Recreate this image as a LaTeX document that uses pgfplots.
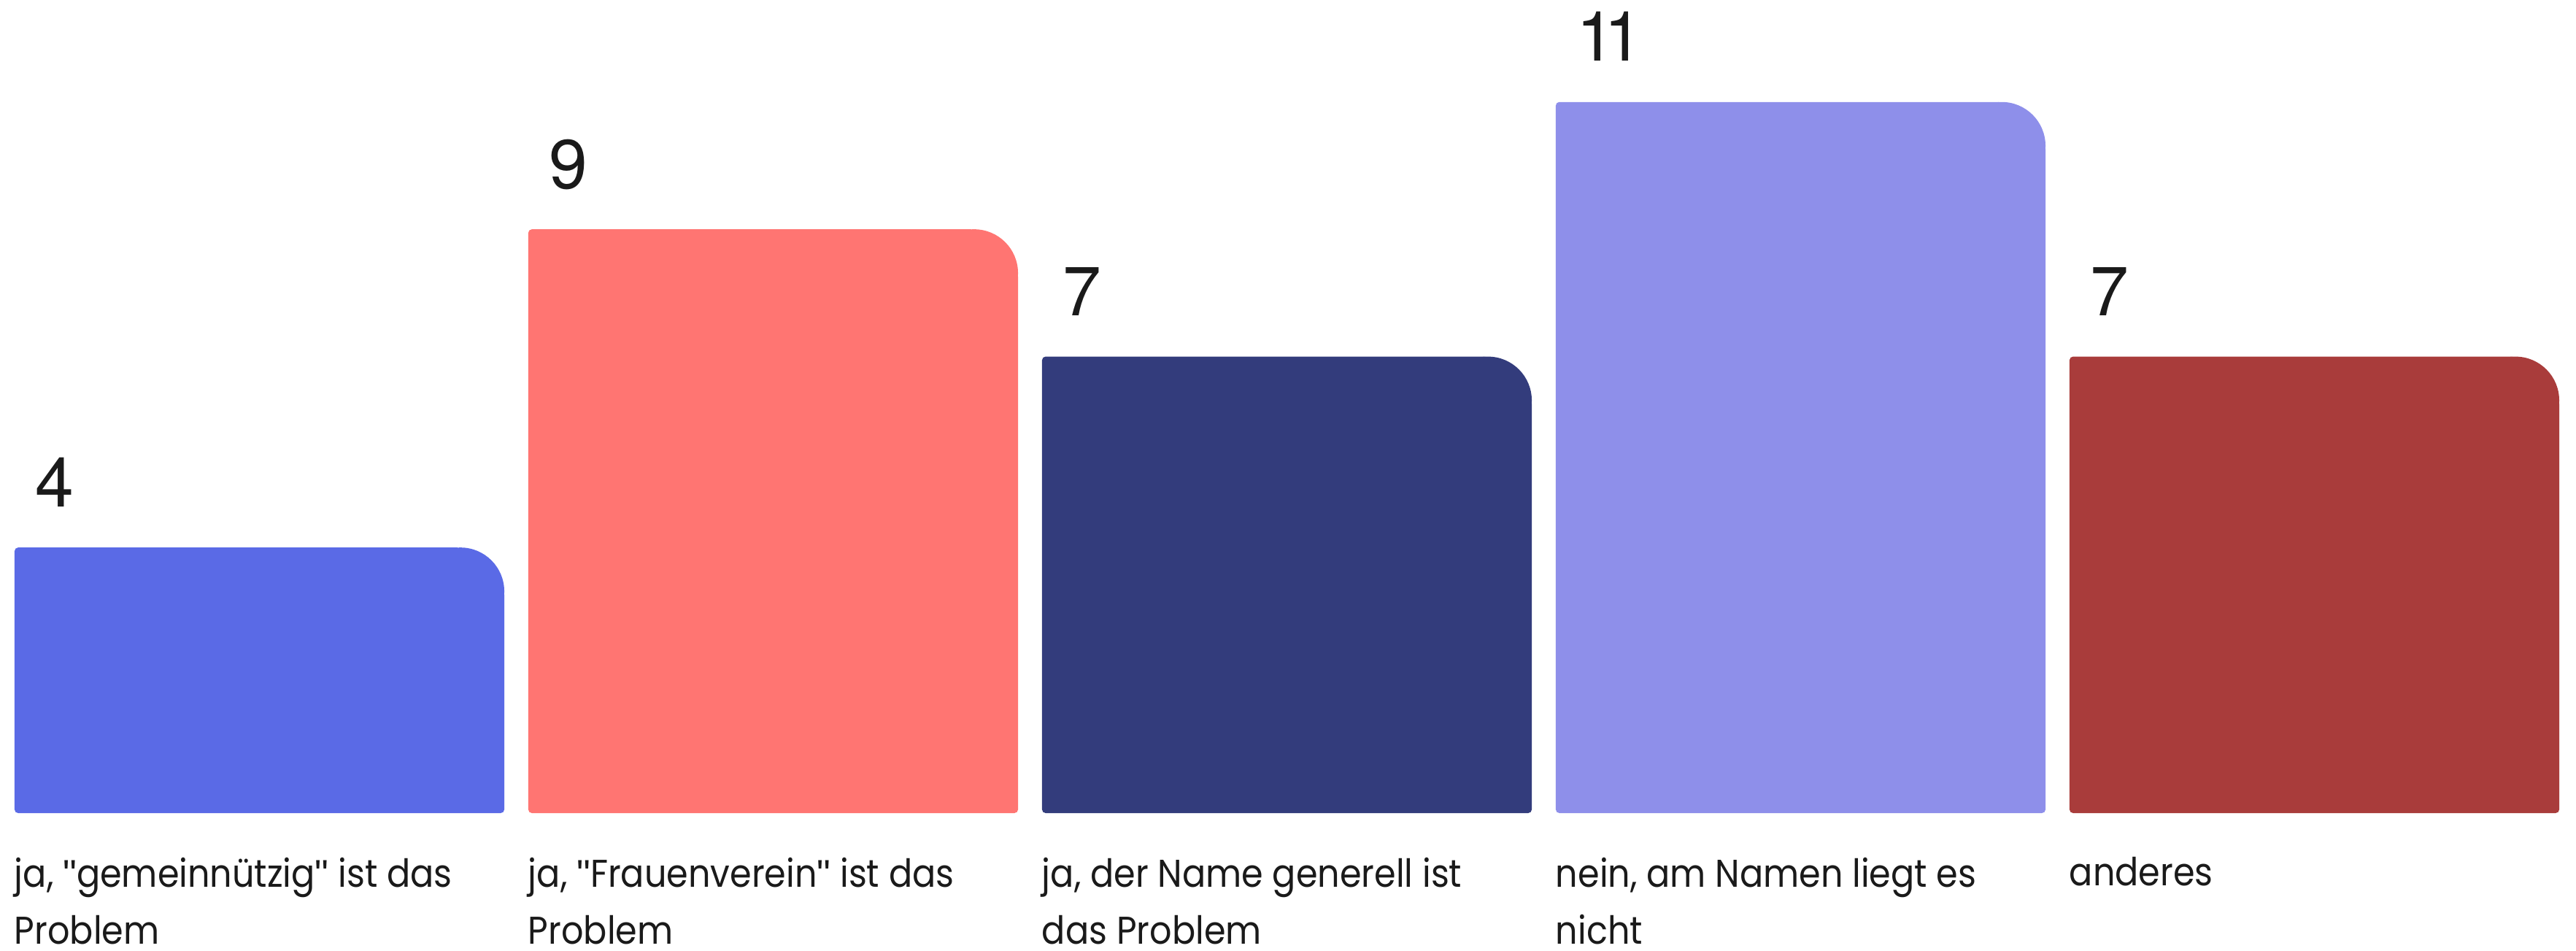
\documentclass[border=0pt]{standalone}
\usepackage{pgfplots}
\pgfplotsset{compat=1.18}
\usepackage{fontspec}
\setmainfont[FakeStretch=0.9]{Poppins}
\newfontfamily\numfont{TeX Gyre Heros}
\newfontfamily\qfont{Liberation Sans}
\definecolor{cA}{HTML}{5A6AE6}
\definecolor{cB}{HTML}{FF7572}
\definecolor{cC}{HTML}{333C7C}
\definecolor{cD}{HTML}{8E8FEA}
\definecolor{cE}{HTML}{A93C3B}
\definecolor{txt}{HTML}{1A1A1A}
\newcommand{\q}{{\qfont"}}
\tikzset{
  cat/.style={inner sep=0pt, outer sep=0pt, text=txt, anchor=base west, align=left, font=\fontsize{13.25}{19.5}\selectfont},
  num/.style={inner sep=0pt, outer sep=0pt, text=txt, anchor=base west, xshift=7.25pt, yshift=14pt, font=\numfont\fontsize{23.75}{28}\selectfont},
}
\begin{document}
\begin{tikzpicture}
\begin{axis}[
  width=882.5pt, height=325.75pt, scale only axis,
  xmin=-0.505, xmax=4.5093, ymin=-2.339, ymax=12.603,
  axis lines=none, ticks=none, clip=false,
]
\path (rel axis cs:0,0) rectangle (rel axis cs:1,1);
% bar 1: value 4
\addplot[draw=none, fill=cA, rounded corners=1.2pt] coordinates {(0,-0.172) (0.4766,-0.172) (0.4766,3.312) (0.3914,3.312) (0.3914,4) (-0.4766,4) (-0.4766,-0.172)} -- cycle;
\addplot[draw=none, fill=cA, rounded corners=15pt] coordinates {(0.3914,2.624) (0.4766,2.624) (0.4766,4) (0.3062,4) (0.3062,2.624)} -- cycle;
% bar 2: value 9
\addplot[draw=none, fill=cB, rounded corners=1.2pt] coordinates {(1,-0.172) (1.4766,-0.172) (1.4766,8.312) (1.3914,8.312) (1.3914,9) (0.5234,9) (0.5234,-0.172)} -- cycle;
\addplot[draw=none, fill=cB, rounded corners=15pt] coordinates {(1.3914,7.624) (1.4766,7.624) (1.4766,9) (1.3062,9) (1.3062,7.624)} -- cycle;
% bar 3: value 7
\addplot[draw=none, fill=cC, rounded corners=1.2pt] coordinates {(2,-0.172) (2.4766,-0.172) (2.4766,6.312) (2.3914,6.312) (2.3914,7) (1.5234,7) (1.5234,-0.172)} -- cycle;
\addplot[draw=none, fill=cC, rounded corners=15pt] coordinates {(2.3914,5.624) (2.4766,5.624) (2.4766,7) (2.3062,7) (2.3062,5.624)} -- cycle;
% bar 4: value 11
\addplot[draw=none, fill=cD, rounded corners=1.2pt] coordinates {(3,-0.172) (3.4766,-0.172) (3.4766,10.312) (3.3914,10.312) (3.3914,11) (2.5234,11) (2.5234,-0.172)} -- cycle;
\addplot[draw=none, fill=cD, rounded corners=15pt] coordinates {(3.3914,9.624) (3.4766,9.624) (3.4766,11) (3.3062,11) (3.3062,9.624)} -- cycle;
% bar 5: value 7
\addplot[draw=none, fill=cE, rounded corners=1.2pt] coordinates {(4,-0.172) (4.4766,-0.172) (4.4766,6.312) (4.3914,6.312) (4.3914,7) (3.5234,7) (3.5234,-0.172)} -- cycle;
\addplot[draw=none, fill=cE, rounded corners=15pt] coordinates {(4.3914,5.624) (4.4766,5.624) (4.4766,7) (4.3062,7) (4.3062,5.624)} -- cycle;
% value labels
\node[num] at (axis cs:-0.4766,4) {4};
\node[num] at (axis cs:0.5234,9) {9};
\node[num] at (axis cs:1.5234,7) {7};
\node[num] at (axis cs:2.5234,11) {\hbox{1}\hskip-3.75pt\hbox{1}};
\node[num] at (axis cs:3.5234,7) {7};
% category labels
\node[cat] at (axis cs:-0.4766,-2.225) {ja, \q gemeinnützig\q{} ist das\\Problem};
\node[cat] at (axis cs:0.5234,-2.225) {ja, \q Frauenverein\q{} ist das\\Problem};
\node[cat] at (axis cs:1.5234,-2.225) {ja, der Name generell ist\\das Problem};
\node[cat] at (axis cs:2.5234,-2.225) {nein, am Namen liegt es\\nicht};
\node[cat] at (axis cs:3.5234,-1.31) {anderes};
\end{axis}
\end{tikzpicture}
\end{document}
